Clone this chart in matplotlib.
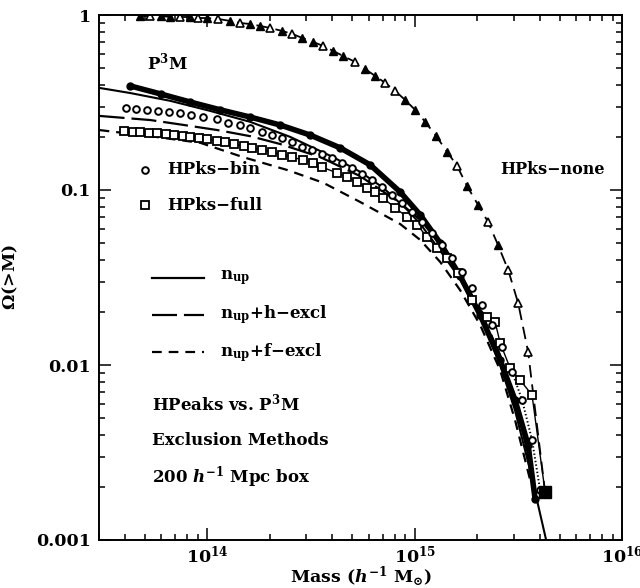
import numpy as np
import matplotlib
matplotlib.use("Agg")
import matplotlib.pyplot as plt
from matplotlib.ticker import LogLocator, NullFormatter, FixedFormatter, FixedLocator
from matplotlib.lines import Line2D

plt.rcParams['font.family'] = 'DejaVu Serif'
plt.rcParams['font.weight'] = 'bold'
plt.rcParams['mathtext.fontset'] = 'custom'
plt.rcParams['mathtext.rm'] = 'DejaVu Serif:bold'
plt.rcParams['mathtext.it'] = 'DejaVu Serif:italic:bold'
plt.rcParams['mathtext.bf'] = 'DejaVu Serif:bold'
plt.rcParams['lines.scale_dashes'] = False

# masses are log10(M / h^-1 Msun)
p3m_logm = np.array([13.629, 13.774, 13.918, 14.063, 14.207, 14.352, 14.496, 14.641, 14.786,
                     14.930, 15.027, 15.123, 15.219, 15.316, 15.412, 15.484, 15.547, 15.581])
p3m_omega = np.array([0.393, 0.354, 0.318, 0.287, 0.261, 0.235, 0.206, 0.174, 0.139,
                      0.0974, 0.0720, 0.0498, 0.0323, 0.0193, 0.0107, 0.00631, 0.00349, 0.00171])

bin_logm = np.array([13.605, 13.658, 13.711, 13.764, 13.817, 13.870, 13.923, 13.981, 14.048, 14.101,
                     14.159, 14.207, 14.265, 14.313, 14.361, 14.410, 14.458, 14.506, 14.554, 14.602,
                     14.651, 14.699, 14.747, 14.795, 14.843, 14.892, 14.940, 14.988, 15.036, 15.084,
                     15.133, 15.181, 15.229, 15.277, 15.325, 15.373, 15.422, 15.470, 15.518, 15.566,
                     15.605])
bin_omega = np.array([0.294, 0.290, 0.287, 0.283, 0.279, 0.275, 0.268, 0.261, 0.254, 0.241,
                      0.235, 0.226, 0.215, 0.206, 0.198, 0.188, 0.176, 0.169, 0.161, 0.152,
                      0.143, 0.134, 0.123, 0.114, 0.104, 0.0936, 0.0843, 0.0749, 0.0656, 0.0568,
                      0.0485, 0.0409, 0.0340, 0.0275, 0.0220, 0.0169, 0.0127, 0.00912, 0.00631, 0.00373,
                      0.00193])

full_logm = np.array([13.600, 13.639, 13.677, 13.720, 13.759, 13.798, 13.841, 13.880, 13.918, 13.961,
                      14.000, 14.048, 14.087, 14.130, 14.178, 14.217, 14.265, 14.313, 14.361, 14.410,
                      14.463, 14.511, 14.554, 14.627, 14.675, 14.723, 14.771, 14.810, 14.848, 14.906,
                      14.964, 15.012, 15.060, 15.108, 15.157, 15.210, 15.277, 15.349, 15.388, 15.412,
                      15.460, 15.508, 15.566])
full_omega = np.array([0.217, 0.215, 0.215, 0.212, 0.212, 0.209, 0.206, 0.203, 0.201, 0.198,
                       0.196, 0.191, 0.188, 0.183, 0.178, 0.174, 0.169, 0.165, 0.159, 0.154,
                       0.148, 0.143, 0.135, 0.125, 0.119, 0.111, 0.103, 0.0974, 0.0900, 0.0789,
                       0.0701, 0.0631, 0.0539, 0.0466, 0.0409, 0.0335, 0.0235, 0.0188, 0.0176, 0.0134,
                       0.00961, 0.00821, 0.00674])

none_logm = np.array([13.677, 13.725, 13.774, 13.822, 13.870, 13.918, 13.957, 14.000, 14.053, 14.111,
                      14.159, 14.207, 14.255, 14.304, 14.361, 14.410, 14.458, 14.511, 14.559, 14.607,
                      14.655, 14.713, 14.761, 14.810, 14.858, 14.906, 14.954, 15.002, 15.051, 15.104,
                      15.157, 15.205, 15.253, 15.306, 15.354, 15.402, 15.451, 15.499, 15.547])
none_omega = np.array([0.987, 0.987, 0.987, 0.974, 0.974, 0.974, 0.961, 0.961, 0.949, 0.924,
                       0.900, 0.888, 0.865, 0.843, 0.810, 0.779, 0.739, 0.701, 0.665, 0.623,
                       0.583, 0.539, 0.491, 0.448, 0.409, 0.368, 0.327, 0.287, 0.245, 0.203,
                       0.165, 0.137, 0.105, 0.0821, 0.0656, 0.0485, 0.0349, 0.0226, 0.0119])
none_open = np.array([0, 1, 0, 0, 1, 0, 1, 0, 1, 0,
                      1, 0, 0, 1, 0, 1, 0, 0, 1, 0,
                      0, 1, 0, 0, 1, 1, 0, 0, 0, 0,
                      0, 1, 0, 0, 1, 0, 1, 1, 1], dtype=bool)

# most massive halo, where the HPeaks curves end
last_logm = 15.629
last_omega = 0.00188

nup_logm = np.array([13.480, 13.629, 13.822, 14.014, 14.207, 14.400, 14.607, 14.737, 14.848, 14.964,
                     15.027, 15.123, 15.219, 15.316, 15.412, 15.484, 15.557, 15.634])
nup_omega = np.array([0.383, 0.358, 0.323, 0.283, 0.245, 0.201, 0.154, 0.127, 0.103, 0.077,
                      0.064, 0.045, 0.031, 0.019, 0.010, 0.0055, 0.0025, 0.001])

hex_logm = np.array([13.480, 13.725, 13.889, 14.048, 14.207, 14.352, 14.545, 14.737, 14.930, 15.027,
                     15.123, 15.219, 15.316, 15.412, 15.508, 15.581])
hex_omega = np.array([0.265, 0.251, 0.235, 0.220, 0.203, 0.183, 0.154, 0.120, 0.0843, 0.0674,
                      0.0491, 0.0331, 0.0206, 0.0114, 0.00485, 0.00206])

fex_logm = np.array([13.480, 13.725, 13.966, 14.173, 14.386, 14.559, 14.737, 14.930, 15.027, 15.123,
                     15.219, 15.316, 15.412, 15.484, 15.557])
fex_omega = np.array([0.220, 0.203, 0.186, 0.154, 0.130, 0.110, 0.0854, 0.0639, 0.0518, 0.0388,
                      0.0268, 0.0169, 0.00936, 0.00485, 0.00220])

LONG = (18, 5)
SHORT = (7, 5)
MID = (9, 5)

fig = plt.figure(figsize=(6.4, 5.88), dpi=100)
ax = fig.add_axes([99 / 640, 48 / 588, 523 / 640, 525 / 588])
ax.set_xscale('log')
ax.set_yscale('log')

# model curves
ax.plot(10 ** nup_logm, nup_omega, color='k', lw=1.5)
ax.plot(10 ** hex_logm, hex_omega, color='k', lw=1.6, dashes=LONG)
ax.plot(10 ** fex_logm, fex_omega, color='k', lw=1.6, dashes=SHORT)

# HPks-none
none_m = np.append(10 ** none_logm, 10 ** last_logm)
none_o = np.append(none_omega, last_omega)
ax.plot(none_m, none_o, color='k', lw=1.3, dashes=MID)
ax.plot(10 ** none_logm[~none_open], none_omega[~none_open], ls='none', marker='^',
        ms=5.5, mfc='k', mec='k')
ax.plot(10 ** none_logm[none_open], none_omega[none_open], ls='none', marker='^',
        ms=5.5, mfc='white', mec='k', mew=1.2)

# P3M
ax.plot(10 ** p3m_logm, p3m_omega, color='k', lw=4, marker='o', ms=5, solid_capstyle='round')

# HPks-full
full_m = np.append(10 ** full_logm, 10 ** last_logm)
full_o = np.append(full_omega, last_omega)
ax.plot(full_m, full_o, color='k', lw=1.0)
ax.plot(10 ** full_logm, full_omega, ls='none', marker='s', ms=6, mfc='white', mec='k', mew=1.3)

# HPks-bin
ax.plot(np.append(10 ** bin_logm[-4:], 10 ** last_logm), np.append(bin_omega[-4:], last_omega),
        color='k', lw=1.4, ls=':')
ax.plot(10 ** bin_logm, bin_omega, ls='none', marker='o', ms=4.8, mfc='white', mec='k', mew=1.4)

ax.plot([10 ** last_logm], [last_omega], ls='none', marker='s', ms=8, color='k')

ax.set_xlim(3e13, 1e16)
ax.set_ylim(1e-3, 1)

ax.xaxis.set_major_locator(FixedLocator([1e14, 1e15, 1e16]))
ax.xaxis.set_major_formatter(FixedFormatter([r'$10^{14}$', r'$10^{15}$', r'$10^{16}$']))
ax.xaxis.set_minor_locator(LogLocator(base=10, subs=np.arange(2, 10), numticks=20))
ax.xaxis.set_minor_formatter(NullFormatter())
ax.yaxis.set_major_locator(FixedLocator([1e-3, 1e-2, 1e-1, 1]))
ax.yaxis.set_major_formatter(FixedFormatter(['0.001', '0.01', '0.1', '1']))
ax.yaxis.set_minor_locator(LogLocator(base=10, subs=np.arange(2, 10), numticks=20))
ax.yaxis.set_minor_formatter(NullFormatter())

ax.tick_params(which='both', direction='in', top=True, right=True, width=1.1, labelsize=12.5)
ax.tick_params(which='major', length=8.5)
ax.tick_params(which='minor', length=4.5)
ax.tick_params(axis='y', pad=6)
ax.tick_params(axis='x', pad=3)
for s in ax.spines.values():
    s.set_linewidth(1.4)

ax.set_xlabel(r'Mass ($h^{-1}$ M$_{\odot}$)', fontsize=12.5, fontweight='bold', labelpad=-1)
ax.set_ylabel(r'$\Omega$(>M)', fontsize=12.5, fontweight='bold')
ax.yaxis.set_label_coords(-0.151, 0.5)

fs = 12
ax.text(0.092, 0.909, r'P$^3$M', transform=ax.transAxes, fontsize=fs, va='center')
ax.text(0.767, 0.705, 'HPks\u2212none', transform=ax.transAxes, fontsize=11.5, va='center')

# marker key
ax.add_line(Line2D([0.088], [0.705], transform=ax.transAxes, ls='none', marker='o', ms=4.8,
                   mfc='white', mec='k', mew=1.4))
ax.text(0.130, 0.705, 'HPks\u2212bin', transform=ax.transAxes, fontsize=fs, va='center')
ax.add_line(Line2D([0.088], [0.638], transform=ax.transAxes, ls='none', marker='s', ms=6,
                   mfc='white', mec='k', mew=1.3))
ax.text(0.130, 0.638, 'HPks\u2212full', transform=ax.transAxes, fontsize=fs, va='center')

# line key
key = [((), 0.499, r'n$_{\mathrm{up}}$'),
       (LONG, 0.4286, 'n$_{\\mathrm{up}}$+h\u2212excl'),
       (SHORT, 0.358, 'n$_{\\mathrm{up}}$+f\u2212excl')]
for dash, yk, lab in key:
    ln = Line2D([0.101, 0.2008], [yk, yk], transform=ax.transAxes, color='k', lw=1.6)
    if dash:
        ln.set_dashes(dash)
    ax.add_line(ln)
    ax.text(0.231, yk, lab, transform=ax.transAxes, fontsize=fs, va='center')

ax.text(0.101, 0.261, r'HPeaks vs. P$^3$M', transform=ax.transAxes, fontsize=fs, va='center')
ax.text(0.101, 0.190, 'Exclusion Methods', transform=ax.transAxes, fontsize=fs, va='center')
ax.text(0.101, 0.120, r'200 $h^{-1}$ Mpc box', transform=ax.transAxes, fontsize=fs, va='center')

fig.savefig('out.png', dpi=100)
